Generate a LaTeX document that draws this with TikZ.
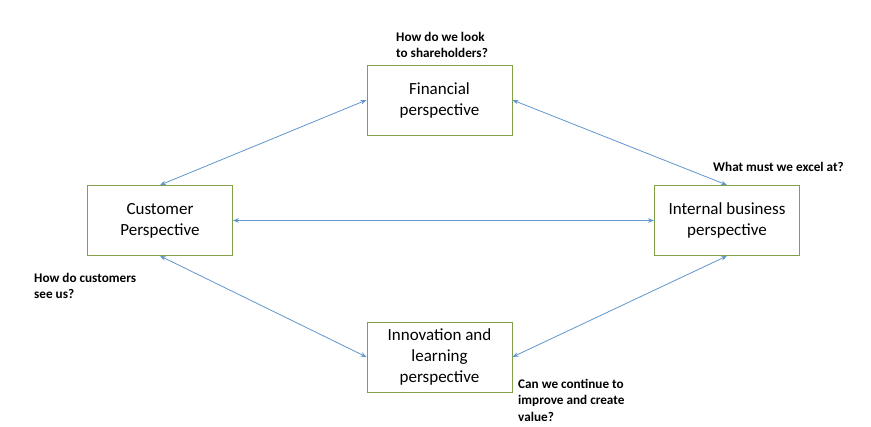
\documentclass[tikz,border=0pt]{standalone}
\usepackage{fontspec}
\setmainfont{Carlito}
\usetikzlibrary{arrows.meta}
\definecolor{boxgreen}{RGB}{130,160,75}
\definecolor{arrowblue}{RGB}{96,150,205}
\tikzset{
  perspbox/.style={draw=boxgreen, line width=0.9pt, fill=white, minimum width=145pt, minimum height=70pt, inner sep=0pt, align=center, font=\fontsize{17}{21}\selectfont},
  question/.style={anchor=north west, inner sep=0pt, align=left, font=\fontsize{13.2}{16.5}\selectfont\bfseries},
  link/.style={draw=arrowblue, line width=0.8pt, {Stealth[length=6pt,width=4.5pt]}-{Stealth[length=6pt,width=4.5pt]}}
}
\begin{document}
\begin{tikzpicture}[x=1pt,y=-1pt]
\useasboundingbox (0,0) rectangle (871,427);
\node[perspbox] (fin) at (439.5,100) {Financial\\perspective};
\node[perspbox] (cus) at (160,220.5) {Customer\\Perspective};
\node[perspbox] (int) at (727,220.5) {Internal business\\perspective};
\node[perspbox] (inn) at (439.5,357) {Innovation and\\learning\\perspective};
\draw[link] (fin.west) -- (cus.north);
\draw[link] (fin.east) -- (int.north);
\draw[link] (cus.east) -- (int.west);
\draw[link] (cus.south) -- (inn.west);
\draw[link] (int.south) -- (inn.east);
\node[question] (q1) at (396,32) {How do we look\\to shareholders?};
\node[question] (q2) at (713,162) {What must we excel at?};
\node[question] (q3) at (34,273) {How do customers\\see us?};
\node[question] (q4) at (518,379) {Can we continue to\\improve and create\\value?};
\end{tikzpicture}
\end{document}
